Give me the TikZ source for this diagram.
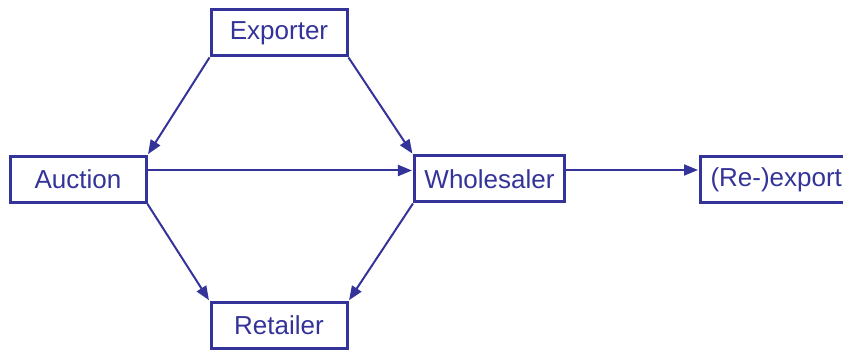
\documentclass[tikz,border=0pt]{standalone}
\usepackage{fontspec}
\setmainfont{Liberation Sans}
\usepackage{tikz}
\usetikzlibrary{arrows.meta,positioning}
\definecolor{Ink}{HTML}{333399}
\tikzset{
  box/.style={draw=Ink,text=Ink,line width=3pt,minimum width=136pt,minimum height=46pt,inner xsep=10pt,align=center,font=\fontsize{26}{30}\selectfont},
  flow/.style={-{Triangle[length=14pt,width=11pt]},draw=Ink,line width=2pt,shorten >=1pt}
}
\begin{document}
\begin{tikzpicture}[x=1pt,y=1pt]
  \useasboundingbox (0,0) rectangle (843,350);
  \clip (0,0) rectangle (843,350);
  \node[box] (exp) at (279,317) {Exporter};
  \node[box] (auc) at (78,170.5) {Auction};
  \node[box] (whs) at (489.5,171) {Wholesaler};
  \node[box,anchor=west] (rex) at (699,170.5) {(Re-)export};
  \node[box] (ret) at (279,24.5) {Retailer};
  \draw[flow] (exp.south west) -- (auc.north east);
  \draw[flow] (exp.south east) -- (whs.north west);
  \draw[flow] ([yshift=9pt]auc.east) -- ([yshift=9pt]auc.east -| whs.west);
  \draw[flow] (auc.south east) -- (ret.north west);
  \draw[flow] (whs.south west) -- (ret.north east);
  \draw[flow] ([yshift=9pt]whs.east) -- ([yshift=9pt]whs.east -| rex.west);
\end{tikzpicture}
\end{document}
